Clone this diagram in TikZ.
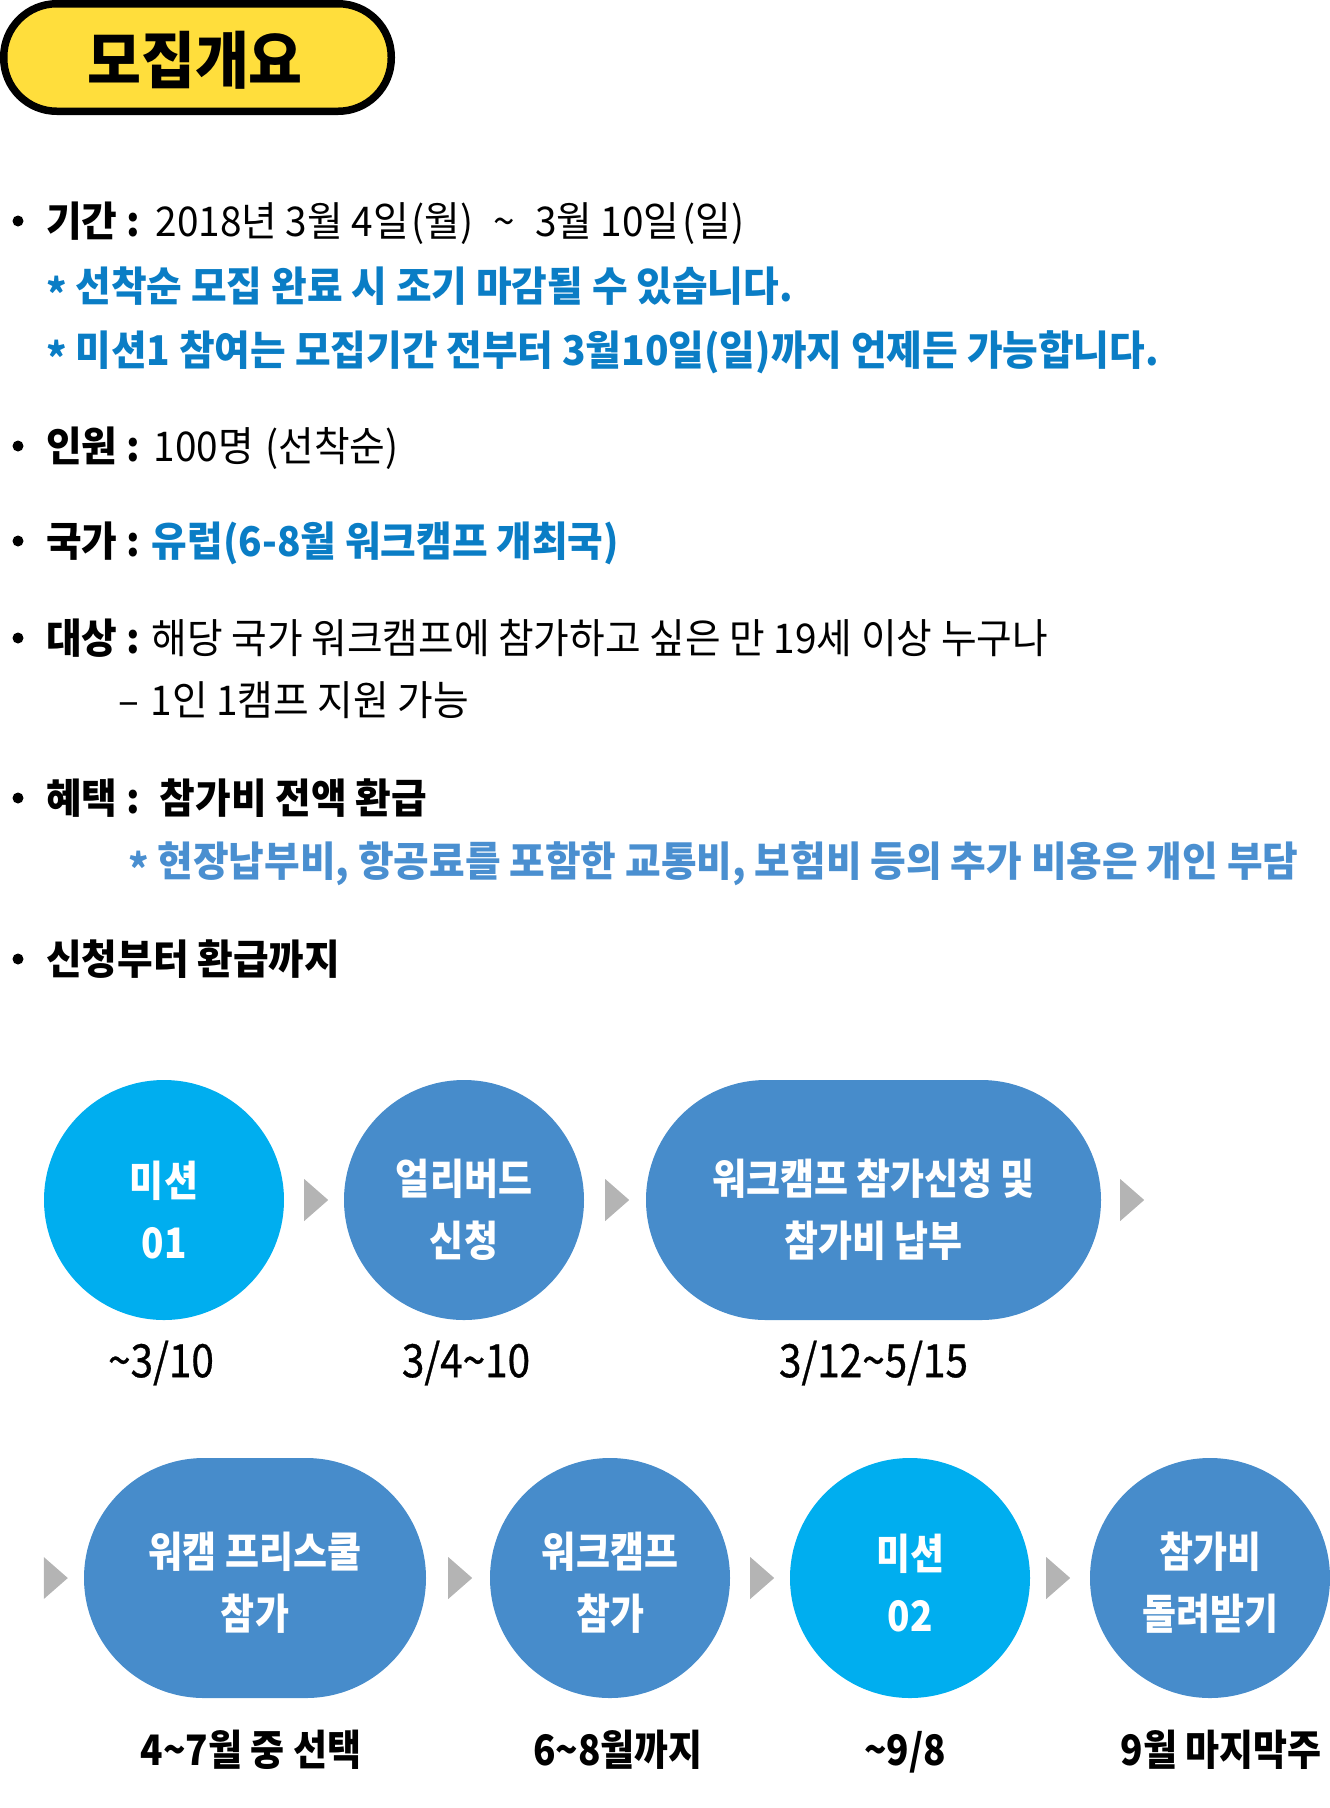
\documentclass[tikz,border=0pt]{standalone}
\usepackage{fontspec}
\setmainfont{Noto Sans CJK KR}[FakeStretch=0.945]
\newfontfamily\krc{Noto Sans CJK KR}[FakeStretch=0.88]
\newfontfamily\krmed{Noto Sans CJK KR}[FakeStretch=0.88,FakeBold=0.7]
\usetikzlibrary{calc}
\definecolor{pillyellow}{HTML}{FFDE3C}
\definecolor{bluetxt}{HTML}{0A7DC5}
\definecolor{lightbluetxt}{HTML}{4A8FD0}
\definecolor{cyanm}{HTML}{00AEEF}
\definecolor{circblue}{HTML}{478CCB}
\definecolor{arrowgray}{HTML}{B4B4B4}
\newcommand\bodyfont{\fontsize{41pt}{49pt}\selectfont}
\newcommand\tld{\textasciitilde}
\begin{document}
\begin{tikzpicture}[x=1pt,y=-1pt,
  body/.style={anchor=base west, inner sep=0pt, font=\bodyfont},
  bullet/.style={circle, fill=black, inner sep=0pt, minimum size=11pt},
  stepcirc/.style={circle, minimum size=240pt, inner sep=0pt, fill=circblue},
  mission/.style={stepcirc, fill=cyanm},
  stadium/.style={rectangle, rounded corners=120pt, minimum height=240pt, inner sep=0pt, fill=circblue},
  intext/.style={text=white, align=center, inner sep=0pt, font=\fontsize{42pt}{62pt}\selectfont\krc\bfseries},
  dateone/.style={anchor=base, inner sep=0pt, font=\fontsize{46pt}{50pt}\selectfont\krmed},
  datetwo/.style={anchor=base, inner sep=0pt, font=\fontsize{42pt}{50pt}\selectfont\krc\bfseries},
  tri/.style={fill=arrowgray}
]
\useasboundingbox (0,0) rectangle (1330,1808);

% header pill
\draw[line width=7.5pt, fill=pillyellow, rounded corners=53pt] (3.75,3.75) rectangle (391.25,111.25);
\node[inner sep=0pt, font=\fontsize{62pt}{70pt}\selectfont\bfseries] (title) at (195,60) {모집개요};

% bullet list
\node[bullet] (b1) at (18,221) {};
\node[body] (l1) at (46,236) {\textbf{기간 :}\hspace{4pt} 2018년 3월 4일\hspace{3pt}(월)\hspace{20pt}\tld\hspace{20pt}3월 10일\hspace{3pt}(일)};
\node[body, text=bluetxt, font=\bodyfont\bfseries] (l2) at (46,301) {\raisebox{-0.2em}{*} 선착순 모집 완료 시 조기 마감될 수 있습니다.};
\node[body, text=bluetxt, font=\bodyfont\bfseries] (l3) at (46,365) {\raisebox{-0.2em}{*} 미션1 참여는 모집기간 전부터 3월10일(일)까지 언제든 가능합니다.};

\node[bullet] (b4) at (18,446) {};
\node[body] (l4) at (46,461) {\textbf{인원 :}\hspace{2pt} 100명 \hspace{3pt}(선착순)};

\node[bullet] (b5) at (18,541) {};
\node[body] (l5) at (46,556) {\textbf{국가 : \textcolor{bluetxt}{유럽(6-8월 워크캠프 개최국)}}};

\node[bullet] (b6) at (18,638) {};
\node[body] (l6) at (46,653) {\textbf{대상 :} 해당 국가 워크캠프에 참가하고 싶은 만 19세 이상 누구나};
\node[body] (l7) at (118,715) {–\hspace{3pt} 1인 1캠프 지원 가능};

\node[bullet] (b8) at (18,798) {};
\node[body, font=\bodyfont\bfseries] (l8) at (46,813) {혜택 :\hspace{20pt}참가비 전액 환급};
\node[body, text=lightbluetxt, font=\bodyfont\bfseries] (l9) at (128,876) {\raisebox{-0.2em}{*} 현장납부비, 항공료를 포함한 교통비, 보험비 등의 추가 비용은 개인 부담};

\node[bullet] (b10) at (18,959) {};
\node[body, font=\bodyfont\bfseries] (l10) at (46,974) {신청부터 환급까지};

% row 1
\node[mission] (m1) at (164,1200) {};
\node[stepcirc] (c2) at (464,1200) {};
\node[stadium, minimum width=455pt] (s3) at (873.5,1200) {};
\node[intext] (m1t) at ([yshift=-10pt]m1.center) {미션\\01};
\node[intext] (c2t) at ([yshift=-10pt]c2.center) {얼리버드\\신청};
\node[intext] (s3t) at ([yshift=-10pt]s3.center) {워크캠프 참가신청 및\\참가비 납부};
\fill[tri] ($(m1.east)+(20,-21)$) -- ++(24,21) -- ++(-24,21) -- cycle;
\fill[tri] ($(c2.east)+(21,-21)$) -- ++(24,21) -- ++(-24,21) -- cycle;
\fill[tri] ($(s3.east)+(19,-21)$) -- ++(24,21) -- ++(-24,21) -- cycle;
\node[dateone] (d1) at ($(m1.south)+(-3,57)$) {\tld3/10};
\node[dateone] (d2) at ($(c2.south)+(2,57)$) {3/4\tld10};
\node[dateone] (d3) at ($(s3.south)+(0,57)$) {3/12\tld5/15};

% row 2
\node[stadium, minimum width=342pt] (s4) at (255,1578) {};
\node[stepcirc] (c5) at (610,1578) {};
\node[mission] (m6) at (910,1578) {};
\node[stepcirc] (c7) at (1210,1578) {};
\node[intext] (s4t) at ([yshift=-5pt]s4.center) {워캠 프리스쿨\\참가};
\node[intext] (c5t) at ([yshift=-5pt]c5.center) {워크캠프\\참가};
\node[intext] (m6t) at ([yshift=-5pt]m6.center) {미션\\02};
\node[intext] (c7t) at ([yshift=-5pt]c7.center) {참가비\\돌려받기};
\fill[tri] ($(s4.west)+(-40,-21)$) -- ++(24,21) -- ++(-24,21) -- cycle;
\fill[tri] ($(s4.east)+(22,-21)$) -- ++(24,21) -- ++(-24,21) -- cycle;
\fill[tri] ($(c5.east)+(20,-21)$) -- ++(24,21) -- ++(-24,21) -- cycle;
\fill[tri] ($(m6.east)+(16,-21)$) -- ++(24,21) -- ++(-24,21) -- cycle;
\node[datetwo] (d4) at ($(s4.south)+(-4,67)$) {4\tld7월 중 선택};
\node[datetwo] (d5) at ($(c5.south)+(8,67)$) {6\tld8월까지};
\node[datetwo] (d6) at ($(m6.south)+(-5,67)$) {\tld9/8};
\node[datetwo] (d7) at ($(c7.south)+(11,67)$) {9월 마지막주};
\end{tikzpicture}
\end{document}
